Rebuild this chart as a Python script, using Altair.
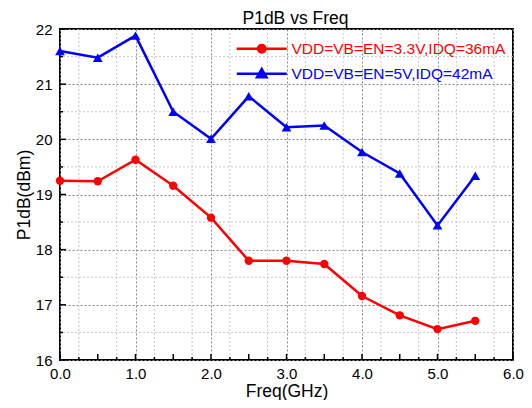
import altair as alt
import pandas as pd

# ---- data ----
freq = [0.0, 0.5, 1.0, 1.5, 2.0, 2.5, 3.0, 3.5, 4.0, 4.5, 5.0, 5.5]
p1db_3v3 = [19.25, 19.24, 19.63, 19.16, 18.58, 17.80, 17.80, 17.74, 17.16, 16.81, 16.56, 16.71]
p1db_5v = [21.60, 21.48, 21.88, 20.50, 20.01, 20.78, 20.22, 20.25, 19.77, 19.38, 18.44, 19.34]
series_names = ["VDD=VB=EN=3.3V,IDQ=36mA", "VDD=VB=EN=5V,IDQ=42mA"]
series_colors = ["#FF0000", "#0000FF"]

x_major = [0.0, 0.5, 1.0, 1.5, 2.0, 2.5, 3.0, 3.5, 4.0, 4.5, 5.0, 5.5, 6.0]
x_minor = [0.25, 0.75, 1.25, 1.75, 2.25, 2.75, 3.25, 3.75, 4.25, 4.75, 5.25, 5.75]
y_major = [16, 17, 18, 19, 20, 21, 22]
y_minor = [16.5, 17.5, 18.5, 19.5, 20.5, 21.5]

FONT = "Liberation Sans"
W, H = 453, 331

df = pd.DataFrame({
    "freq": freq * 2,
    "p1db": p1db_3v3 + p1db_5v,
    "series": [series_names[0]] * len(freq) + [series_names[1]] * len(freq),
})

xs = alt.Scale(domain=[0, 6], nice=False, zero=False)
ys = alt.Scale(domain=[16, 22], nice=False, zero=False)

x_axis = alt.Axis(values=x_major, format=".1f", title="Freq(GHz)", ticks=False, domain=False,
                  grid=True, gridColor="#8a8a8a", gridDash=[2, 2], gridWidth=1,
                  labelFlush=False, labelOverlap=False, labelPadding=6, titlePadding=1)
y_axis = alt.Axis(values=y_major, format="d", title="P1dB(dBm)", ticks=False, domain=False,
                  grid=True, gridColor="#8a8a8a", gridDash=[2, 2], gridWidth=1,
                  labelFlush=False, labelOverlap=False, labelPadding=8, titlePadding=2)

# minor grid
xminor_df = pd.DataFrame({"v": x_minor})
yminor_df = pd.DataFrame({"v": y_minor})
minor_x = alt.Chart(xminor_df).mark_rule(color="#c8c8c8", strokeDash=[2, 2], strokeWidth=1).encode(
    x=alt.X("v:Q", scale=xs, axis=x_axis))
minor_y = alt.Chart(yminor_df).mark_rule(color="#c8c8c8", strokeDash=[2, 2], strokeWidth=1).encode(
    y=alt.Y("v:Q", scale=ys, axis=y_axis))

# inward ticks
xmaj_df = pd.DataFrame({"v": x_major})
ymaj_df = pd.DataFrame({"v": y_major})
tick_x_major = alt.Chart(xmaj_df).mark_rule(color="black", strokeWidth=1.5).encode(
    x=alt.X("v:Q", scale=xs), y=alt.value(H), y2=alt.value(H - 6))
tick_x_minor = alt.Chart(xminor_df).mark_rule(color="black", strokeWidth=1.5).encode(
    x=alt.X("v:Q", scale=xs), y=alt.value(H), y2=alt.value(H - 3))
tick_y_major = alt.Chart(ymaj_df).mark_rule(color="black", strokeWidth=1.5).encode(
    y=alt.Y("v:Q", scale=ys), x=alt.value(0), x2=alt.value(6))
tick_y_minor = alt.Chart(yminor_df).mark_rule(color="black", strokeWidth=1.5).encode(
    y=alt.Y("v:Q", scale=ys), x=alt.value(0), x2=alt.value(3))

base = alt.Chart(df)

layers = []
marker_shapes = ["circle", "triangle-up"]
marker_sizes = [70, 95]
for name, col, shp, sz in zip(series_names, series_colors, marker_shapes, marker_sizes):
    sub = base.transform_filter(alt.datum.series == name)
    layers.append(sub.mark_line(color=col, strokeWidth=2.5, clip=False).encode(
        x=alt.X("freq:Q", scale=xs), y=alt.Y("p1db:Q", scale=ys)))
    layers.append(sub.mark_point(color=col, filled=True, opacity=1, shape=shp, size=sz, clip=False).encode(
        x=alt.X("freq:Q", scale=xs), y=alt.Y("p1db:Q", scale=ys)))

# legend-only layer (no marks drawn)
legend_paths = [
    "M-5,0H5M0.75,0A0.75,0.75,0,1,1,-0.75,0A0.75,0.75,0,1,1,0.75,0Z",
    "M-5,0H5M0,-0.95L0.95,0.7L-0.95,0.7Z",
]
label_color_expr = "datum.value == '%s' ? '#FF0000' : '#0000FF'" % series_names[0]
leg = alt.Legend(
    title=None, orient="none", legendX=194, legendY=12, padding=0,
    symbolSize=100, symbolStrokeWidth=2.5, labelOffset=22, symbolOpacity=1,
    labelFont=FONT, labelFontSize=15.5, rowPadding=6, labelLimit=400,
    labelColor={"expr": label_color_expr},
)
legend_layer = base.transform_filter("false").mark_point(filled=True).encode(
    x=alt.X("freq:Q", scale=xs), y=alt.Y("p1db:Q", scale=ys),
    fill=alt.Fill("series:N", scale=alt.Scale(domain=series_names, range=series_colors), legend=leg),
    stroke=alt.Stroke("series:N", scale=alt.Scale(domain=series_names, range=series_colors), legend=leg),
    shape=alt.Shape("series:N", scale=alt.Scale(domain=series_names, range=legend_paths), legend=leg),
)

chart = alt.layer(
    minor_x, minor_y, tick_x_major, tick_x_minor, tick_y_major, tick_y_minor,
    *layers, legend_layer,
).properties(
    width=W, height=H,
    title=alt.TitleParams("P1dB vs Freq", font=FONT, fontSize=17.5, fontWeight="normal",
                          color="black", anchor="middle", dx=9, dy=13, offset=8),
    autosize=alt.AutoSizeParams(type="none"),
    padding={"left": 52, "top": 21, "right": 11, "bottom": 40},
).configure_view(
    stroke="black", strokeWidth=2
).configure_axis(
    labelFont=FONT, labelFontSize=15, labelColor="black",
    titleFont=FONT, titleFontSize=17.5, titleFontWeight="normal", titleColor="black",
)

chart.save("out.html", embed_options={"renderer": "svg", "actions": False})
